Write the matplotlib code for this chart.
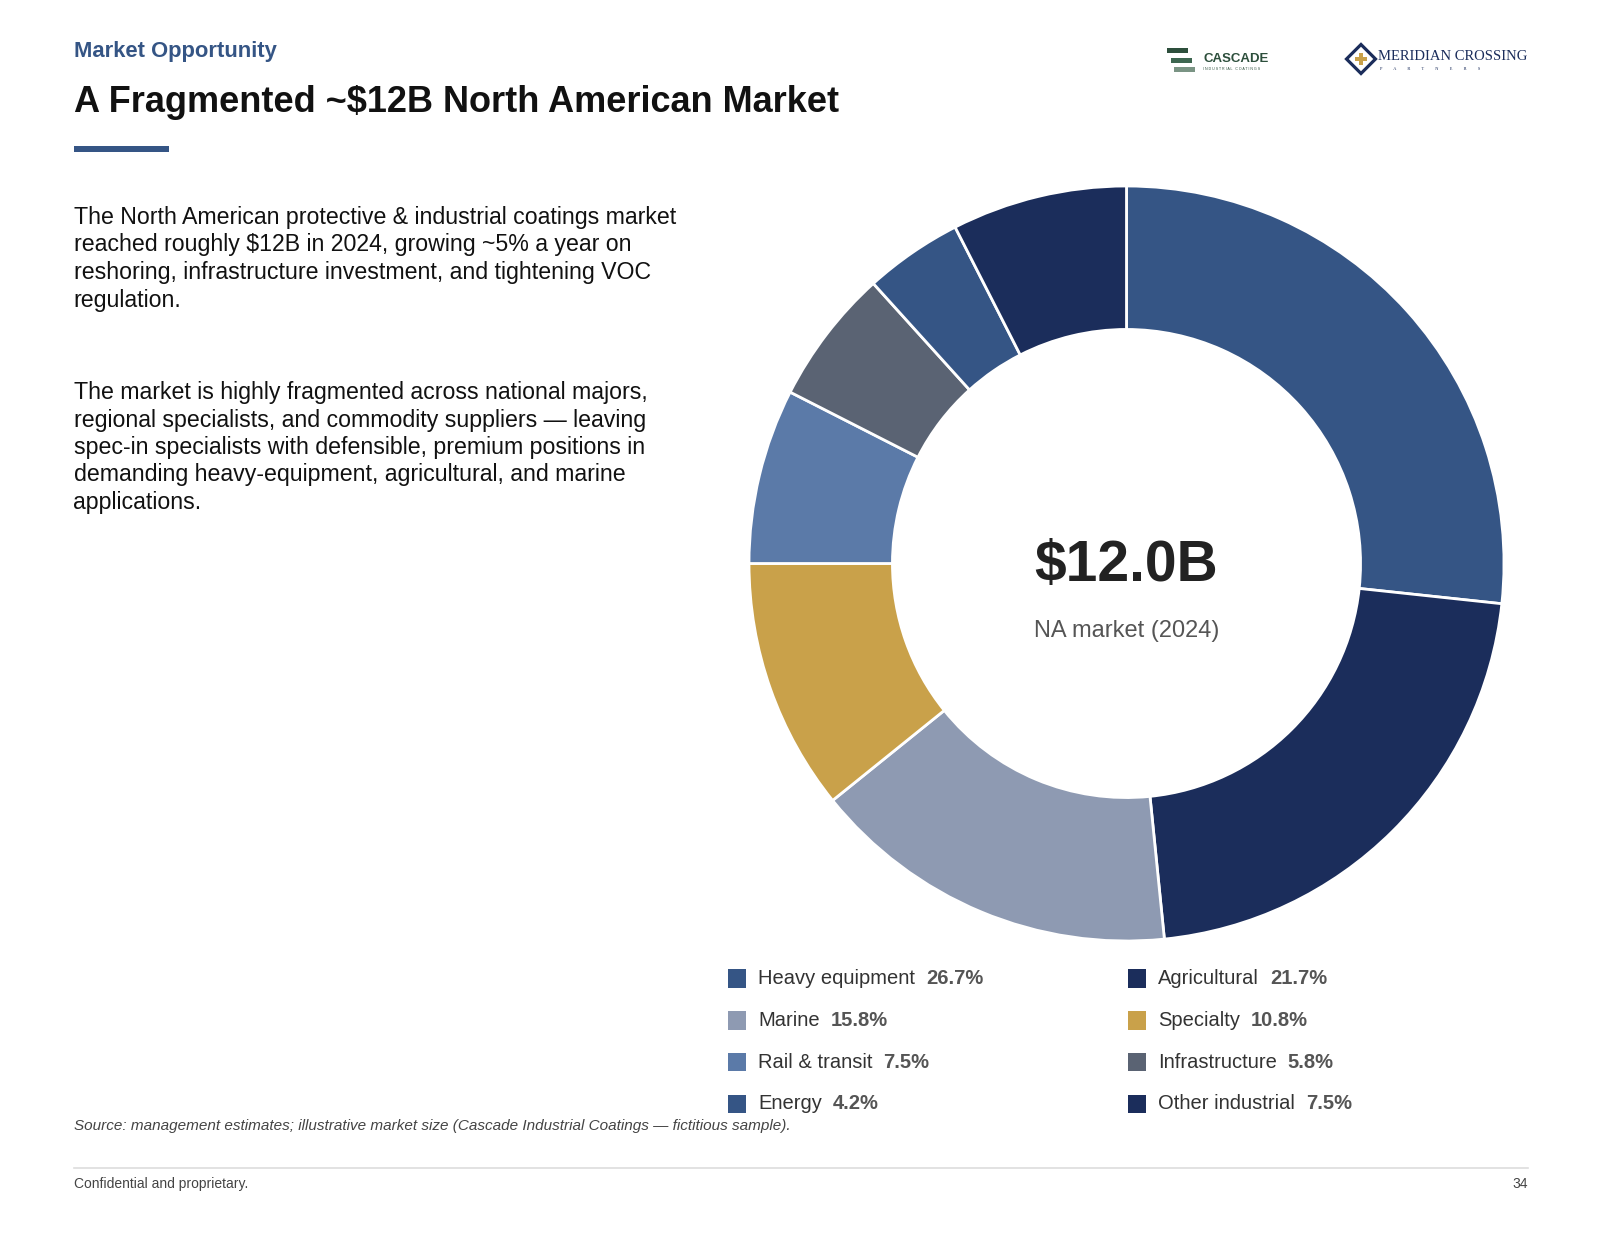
import numpy as np
import matplotlib
matplotlib.use("Agg")
import matplotlib.pyplot as plt
from matplotlib.patches import Rectangle, Polygon

plt.rcParams["font.family"] = ["Liberation Sans", "DejaVu Sans"]

# data
segments = ["Heavy equipment", "Agricultural", "Marine", "Specialty",
            "Rail & transit", "Infrastructure", "Energy", "Other industrial"]
shares = [26.7, 21.7, 15.8, 10.8, 7.5, 5.8, 4.2, 7.5]
colors = ["#355585", "#1b2d5b", "#8e9ab2", "#c9a14a",
          "#5b7aa8", "#5a6373", "#355585", "#1b2d5b"]
total_label = "$12.0B"
total_sub = "NA market (2024)"

W, H = 1600, 1237
fig = plt.figure(figsize=(16, 12.37), dpi=100)
bg = fig.add_axes([0, 0, 1, 1])
bg.set_xlim(0, W); bg.set_ylim(H, 0); bg.set_axis_off()

NAVY = "#355585"
L = 73.5
# header
bg.text(L, 51, "Market Opportunity", fontsize=15.8, fontweight="bold", color=NAVY, va="center")
bg.text(L, 102, "A Fragmented ~$12B North American Market", fontsize=26, fontweight="bold",
        color="#111111", va="center")
bg.add_patch(Rectangle((L, 146), 95, 6, color=NAVY, lw=0))

# body copy
p1 = ("The North American protective & industrial coatings market\n"
      "reached roughly $12B in 2024, growing ~5% a year on\n"
      "reshoring, infrastructure investment, and tightening VOC\n"
      "regulation.")
p2 = ("The market is highly fragmented across national majors,\n"
      "regional specialists, and commodity suppliers \u2014 leaving\n"
      "spec-in specialists with defensible, premium positions in\n"
      "demanding heavy-equipment, agricultural, and marine\n"
      "applications.")
bg.text(L, 206, p1, fontsize=16.7, color="#111111", va="top", linespacing=1.25)
bg.text(L, 381, p2, fontsize=16.7, color="#111111", va="top", linespacing=1.25)

# logos
for i, (x0, c) in enumerate([(1167, "#2d4f3c"), (1171, "#3d6650"), (1174, "#7a9484")]):
    bg.add_patch(Rectangle((x0, 48 + i * 9.5), 21, 5, color=c, lw=0))
bg.text(1203, 59, "CASCADE", fontsize=9.5, fontweight="heavy", color="#2d4f3c", va="center")
bg.text(1203, 69.5, "I N D U S T R I A L   C O A T I N G S", fontsize=2.6, color="#2d4f3c",
        va="center")
cx, cy, r = 1361, 59, 14.5
bg.add_patch(Polygon([(cx, cy - r), (cx + r, cy), (cx, cy + r), (cx - r, cy)],
                     closed=True, fill=False, ec="#1b2d5b", lw=2.3))
bg.add_patch(Rectangle((cx - 6, cy - 2), 12, 4, color="#c9a14a", lw=0))
bg.add_patch(Rectangle((cx - 2, cy - 6), 4, 12, color="#c9a14a", lw=0))
bg.text(1378, 57, "MERIDIAN CROSSING", fontsize=10.5, family=["Liberation Serif", "DejaVu Serif"],
        color="#1b2d5b", va="center")
bg.text(1380, 68.5, "P          A          R          T          N          E          R          S",
        fontsize=3.2, family=["Liberation Serif", "DejaVu Serif"], color="#1b2d5b", va="center")

# donut
cxp, cyp, R = 1126.5, 563.5, 377.5
ax = fig.add_axes([(cxp - R) / W, (H - cyp - R) / H, 2 * R / W, 2 * R / H])
ax.pie(shares, colors=colors, startangle=90, counterclock=False, radius=1,
       wedgeprops=dict(width=0.38, edgecolor="white", linewidth=2))
ax.set_xlim(-1, 1); ax.set_ylim(-1, 1); ax.set_aspect("equal"); ax.set_axis_off()
bg.text(cxp, 566, total_label, fontsize=41, fontweight="bold", color="#222222",
        ha="center", va="center")
bg.text(cxp, 631, total_sub, fontsize=17, color="#555555", ha="center", va="center")

# legend
fig.canvas.draw()
rend = fig.canvas.get_renderer()
for i, (name, val, c) in enumerate(zip(segments, shares, colors)):
    col, row = i % 2, i // 2
    x = 727.5 + col * 400
    y = 978.5 + row * 41.8
    bg.add_patch(Rectangle((x, y - 9.2), 18.5, 18.5, color=c, lw=0))
    t = bg.text(x + 30.5, y, name, fontsize=14.5, color="#333333", va="center")
    bb = t.get_window_extent(renderer=rend)
    bg.text(bb.x1 + 11, y, f"{val:.1f}%", fontsize=14.5, fontweight="bold",
            color="#555555", va="center")

# footer
bg.text(L, 1126, "Source: management estimates; illustrative market size "
        "(Cascade Industrial Coatings \u2014 fictitious sample).",
        fontsize=11, style="italic", color="#444444", va="center")
bg.plot([L, 1527.5], [1168, 1168], color="#dddddd", lw=1.2)
bg.text(L, 1184, "Confidential and proprietary.", fontsize=10, color="#444444", va="center")
bg.text(1527.5, 1184, "34", fontsize=10, color="#444444", va="center", ha="right")

fig.savefig("out.png", dpi=100)
